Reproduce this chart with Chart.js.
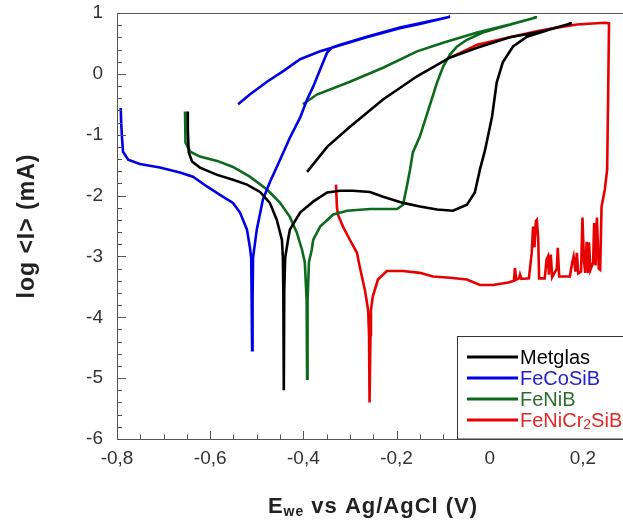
<!DOCTYPE html>
<html>
<head>
<meta charset="utf-8">
<script src="https://cdn.jsdelivr.net/npm/chart.js@4/dist/chart.umd.min.js"></script>
<style>
  html, body { margin: 0; padding: 0; background: #fff; }
  #wrap { width: 623px; height: 520px; }
</style>
</head>
<body>
<div id="wrap"><canvas id="chart" width="623" height="520"></canvas></div>
<script>
// potentials (V vs Ag/AgCl) and log current (mA)
var metglasE = [-0.648,-0.648,-0.646,-0.639,-0.622,-0.585,-0.551,-0.521,-0.493,-0.472,-0.457,-0.446,-0.444,-0.443,-0.442,-0.441,-0.439,-0.433,-0.429,-0.407,-0.379,-0.349,-0.321,-0.294,-0.257,-0.229,-0.186,-0.150,-0.113,-0.079,-0.049,-0.032,-0.021,-0.010,0.005,0.015,0.028,0.050,0.080,0.129,0.176,0.114,0.043,-0.027,-0.085,-0.156,-0.229,-0.300,-0.349,-0.392];
var metglasLogI = [-0.62,-0.92,-1.29,-1.44,-1.54,-1.66,-1.74,-1.82,-1.94,-2.12,-2.40,-2.73,-3.02,-3.55,-5.20,-3.55,-3.02,-2.73,-2.56,-2.28,-2.10,-1.95,-1.92,-1.92,-1.94,-2.02,-2.12,-2.18,-2.23,-2.25,-2.15,-1.95,-1.57,-1.25,-0.70,-0.14,0.19,0.45,0.61,0.73,0.83,0.70,0.60,0.43,0.27,-0.04,-0.42,-0.87,-1.20,-1.61];

var fecosibE = [-0.792,-0.791,-0.789,-0.787,-0.776,-0.751,-0.708,-0.665,-0.637,-0.607,-0.579,-0.551,-0.536,-0.521,-0.515,-0.512,-0.511,-0.510,-0.509,-0.508,-0.500,-0.487,-0.472,-0.450,-0.429,-0.407,-0.392,-0.379,-0.364,-0.349,-0.339,-0.321,-0.264,-0.193,-0.150,-0.085,-0.150,-0.193,-0.264,-0.321,-0.364,-0.407,-0.444,-0.478,-0.515,-0.540];
var fecosibLogI = [-0.56,-0.80,-1.08,-1.28,-1.41,-1.48,-1.54,-1.62,-1.69,-1.85,-1.99,-2.12,-2.28,-2.56,-2.84,-3.02,-3.71,-4.54,-3.71,-3.02,-2.56,-2.07,-1.78,-1.41,-1.05,-0.72,-0.42,-0.21,0.07,0.35,0.43,0.48,0.61,0.76,0.83,0.94,0.82,0.75,0.60,0.47,0.37,0.24,0.04,-0.13,-0.34,-0.50];

var fenibE = [-0.654,-0.654,-0.652,-0.643,-0.622,-0.585,-0.551,-0.515,-0.478,-0.450,-0.429,-0.414,-0.403,-0.397,-0.393,-0.392,-0.391,-0.388,-0.382,-0.379,-0.364,-0.336,-0.306,-0.257,-0.199,-0.186,-0.178,-0.171,-0.165,-0.150,-0.135,-0.113,-0.100,-0.085,-0.070,-0.049,-0.015,0.022,0.058,0.101,0.043,-0.027,-0.100,-0.156,-0.229,-0.300,-0.371,-0.401];
var fenibLogI = [-0.62,-0.83,-1.13,-1.28,-1.36,-1.43,-1.53,-1.69,-1.90,-2.12,-2.35,-2.61,-2.89,-3.09,-3.71,-5.01,-3.71,-3.09,-2.89,-2.73,-2.51,-2.31,-2.25,-2.22,-2.22,-2.15,-1.85,-1.57,-1.29,-1.03,-0.67,-0.14,0.12,0.32,0.45,0.56,0.68,0.76,0.84,0.93,0.81,0.68,0.51,0.37,0.10,-0.13,-0.34,-0.50];

var fenicrE = [-0.330,-0.328,-0.326,-0.315,-0.300,-0.285,-0.279,-0.268,-0.261,-0.259,-0.258,-0.256,-0.255,-0.251,-0.240,-0.221,-0.186,-0.150,-0.122,-0.085,-0.049,-0.021,0.007,0.040,0.052,0.054,0.057,0.063,0.065,0.068,0.084,0.090,0.093,0.096,0.099,0.101,0.104,0.106,0.118,0.122,0.125,0.127,0.131,0.134,0.144,0.146,0.149,0.172,0.177,0.180,0.184,0.187,0.190,0.196,0.199,0.202,0.205,0.208,0.211,0.213,0.216,0.222,0.224,0.227,0.230,0.234,0.237,0.240,0.247,0.252,0.254,0.256,0.247,0.187,0.144,0.101,0.043,-0.027,-0.081];
var fenicrLogI = [-1.82,-2.18,-2.31,-2.51,-2.73,-2.94,-3.17,-3.55,-3.88,-4.29,-5.40,-4.29,-3.88,-3.66,-3.38,-3.24,-3.24,-3.27,-3.33,-3.35,-3.38,-3.47,-3.47,-3.43,-3.40,-3.19,-3.38,-3.36,-3.30,-3.37,-3.36,-2.95,-2.51,-2.85,-2.42,-2.40,-2.70,-3.36,-3.36,-3.05,-3.00,-3.30,-2.97,-3.34,-3.20,-2.86,-3.33,-3.33,-3.10,-3.00,-3.25,-2.94,-3.28,-3.25,-2.36,-3.05,-3.27,-2.76,-3.25,-2.77,-3.22,-3.10,-2.45,-3.15,-2.36,-3.20,-3.22,-2.18,-1.90,-1.57,-0.42,0.83,0.84,0.81,0.76,0.70,0.60,0.48,0.28];

var names = ['Metglas', 'FeCoSiB', 'FeNiB', 'FeNiCr2SiB'];
var lineColors = ['#000000', '#0000e6', '#0b6a1c', '#e60000'];
var textColors = ['#000000', '#2222cc', '#2e6b2e', '#e02828'];

var xTicks = [-0.8, -0.6, -0.4, -0.2, 0, 0.2];
var yTicks = [1, 0, -1, -2, -3, -4, -5, -6];

var FONT = "'Liberation Sans', Arial, sans-serif";

function pts(xs, ys) {
    return xs.map((v, i) => ({x: v, y: ys[i]}));
}

// text with digits drawn as subscripts (FeNiCr2SiB)
function drawSubText(ctx, str, x, y, size, bold) {
    let parts = str.match(/\d+|\D+/g);
    for (let p of parts) {
        let sub = /\d/.test(p);
        ctx.font = (bold ? 'bold ' : '') + (sub ? Math.round(size * 0.68) : size) + 'px ' + FONT;
        ctx.fillText(p, x, y + (sub ? size * 0.22 : 0));
        x += ctx.measureText(p).width;
    }
}

var frame = {
    id: 'frame',
    afterDraw(chart) {
        const ctx = chart.ctx, a = chart.chartArea;
        const xs = chart.scales.x, ys = chart.scales.y;
        ctx.save();
        ctx.strokeStyle = '#555';
        ctx.lineWidth = 1;
        ctx.beginPath();
        ctx.moveTo(a.left, a.top + 0.5);
        ctx.lineTo(a.right, a.top + 0.5);
        // inward ticks, x every 0.05, y every 0.2
        for (let i = 0; i <= 22; i++) {
            let v = -0.8 + i * 0.05;
            let px = Math.round(xs.getPixelForValue(v)) + 0.5;
            if (px > a.right) break;
            let len = (i % 4 == 0) ? 8 : 4.5;
            ctx.moveTo(px, a.bottom);
            ctx.lineTo(px, a.bottom - len);
        }
        for (let i = 0; i <= 35; i++) {
            let v = 1 - i * 0.2;
            let py = Math.round(ys.getPixelForValue(v)) + 0.5;
            let len = (i % 5 == 0) ? 9 : 5;
            ctx.moveTo(a.left, py);
            ctx.lineTo(a.left + len, py);
        }
        ctx.stroke();

        // legend box
        const lx = 457, ly = 336;
        ctx.fillStyle = '#fff';
        ctx.fillRect(lx, ly, a.right - lx + 5, a.bottom - ly);
        ctx.strokeStyle = '#333';
        ctx.strokeRect(lx + 0.5, ly + 0.5, a.right - lx + 5, a.bottom - ly - 0.5);
        ctx.textBaseline = 'middle';
        ctx.textAlign = 'left';
        names.forEach((n, i) => {
            let ry = ly + 21 + i * 21;
            ctx.strokeStyle = lineColors[i];
            ctx.lineWidth = 3;
            ctx.beginPath();
            ctx.moveTo(467, ry);
            ctx.lineTo(518, ry);
            ctx.stroke();
            ctx.fillStyle = textColors[i];
            drawSubText(ctx, n, 520, ry + 1, 20, false);
        });

        // axis titles
        ctx.fillStyle = '#222';
        ctx.textBaseline = 'alphabetic';
        ctx.letterSpacing = '1px';
        ctx.save();
        ctx.translate(34, 226);
        ctx.rotate(-Math.PI / 2);
        ctx.textAlign = 'center';
        ctx.font = 'bold 23px ' + FONT;
        ctx.fillText('log <I> (mA)', 0, 0);
        ctx.restore();

        ctx.textAlign = 'left';
        ctx.font = 'bold 22px ' + FONT;
        let wE = ctx.measureText('E').width;
        let wRest = ctx.measureText(' vs Ag/AgCl (V)').width;
        ctx.font = 'bold 14px ' + FONT;
        let wSub = ctx.measureText('we').width;
        let tx = 373 - (wE + wSub + wRest) / 2;
        ctx.font = 'bold 22px ' + FONT;
        ctx.fillText('E', tx, 513);
        ctx.font = 'bold 14px ' + FONT;
        ctx.fillText('we', tx + wE, 516);
        ctx.font = 'bold 22px ' + FONT;
        ctx.fillText(' vs Ag/AgCl (V)', tx + wE + wSub, 513);
        ctx.restore();
    }
};

var series = [
    [metglasE, metglasLogI],
    [fecosibE, fecosibLogI],
    [fenibE, fenibLogI],
    [fenicrE, fenicrLogI]
];

var ctx = document.getElementById('chart').getContext('2d');
var chart = new Chart(ctx, {
    type: 'scatter',
    data: {
        datasets: series.map((s, i) => ({
            label: names[i],
            data: pts(s[0], s[1]),
            showLine: true,
            borderColor: lineColors[i],
            backgroundColor: lineColors[i],
            borderWidth: 2.6,
            pointRadius: 0,
            tension: 0
        }))
    },
    options: {
        responsive: false,
        animation: false,
        devicePixelRatio: 1,
        layout: { padding: { top: 13, right: 0, left: 0, bottom: 0 } },
        plugins: {
            legend: { display: false },
            tooltip: { enabled: false }
        },
        scales: {
            x: {
                type: 'linear',
                min: -0.8,
                max: 0.286,
                afterFit(s) { s.height = 81; s.paddingLeft = 0; s.paddingRight = 0; },
                afterBuildTicks(s) { s.ticks = xTicks.map(v => ({value: v})); },
                grid: { display: false, drawTicks: false },
                border: { display: true, color: '#555', width: 1 },
                ticks: {
                    color: '#333',
                    font: { family: FONT, size: 19 },
                    padding: 8,
                    maxRotation: 0,
                    autoSkip: false,
                    callback: v => Math.abs(v) < 1e-9 ? '0' : v.toFixed(1).replace('.', ',')
                }
            },
            y: {
                type: 'linear',
                min: -6,
                max: 1,
                afterFit(s) { s.width = 117; s.paddingTop = 0; s.paddingBottom = 0; },
                afterBuildTicks(s) { s.ticks = yTicks.map(v => ({value: v})); },
                grid: { display: false, drawTicks: false },
                border: { display: true, color: '#555', width: 1 },
                ticks: {
                    color: '#333',
                    font: { family: FONT, size: 19 },
                    padding: 14,
                    autoSkip: false,
                    callback: v => String(v)
                }
            }
        }
    },
    plugins: [frame]
});
</script>
</body>
</html>
